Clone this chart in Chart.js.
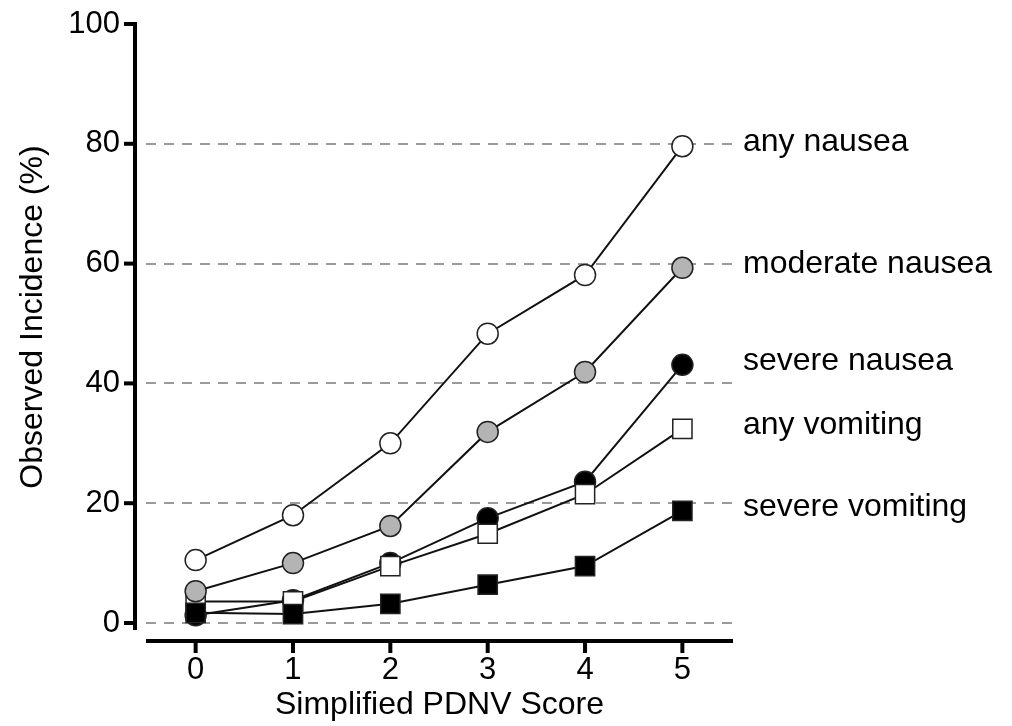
<!DOCTYPE html>
<html>
<head>
<meta charset="utf-8">
<script src="https://cdn.jsdelivr.net/npm/chart.js@4.4.1/dist/chart.umd.min.js"></script>
<style>
  html, body { margin: 0; padding: 0; background: #fff; }
</style>
</head>
<body>
<canvas id="myChart" width="1012" height="726"></canvas>
<script>
// values (observed incidence, %)
const scores = [0, 1, 2, 3, 4, 5];
const anyNausea = [10.5, 18.0, 30.0, 48.3, 58.1, 79.6];
const moderateNausea = [5.3, 10.0, 16.2, 31.9, 41.9, 59.3];
const severeNausea = [1.3, 3.8, 10.0, 17.5, 23.6, 43.1];
const anyVomiting = [3.6, 3.6, 9.5, 14.9, 21.5, 32.4];
const severeVomiting = [1.7, 1.5, 3.2, 6.4, 9.5, 18.7];
const seriesNames = ["any nausea", "moderate nausea", "severe nausea", "any vomiting", "severe vomiting"];
const yTitle = "Observed Incidence (%)";
const xTitle = "Simplified PDNV Score";

const FONT = "'Liberation Sans', Arial, sans-serif";
Chart.defaults.font.family = FONT;
Chart.defaults.color = "#000";

function toPoints(vals) {
  return scores.map((s, i) => ({ x: s, y: vals[i] }));
}

function series(label, vals, style, fill, radius, order) {
  return {
    label: label,
    data: toPoints(vals),
    borderColor: "#111",
    borderWidth: 2,
    pointStyle: style,
    pointRadius: radius,
    pointHoverRadius: radius,
    pointBackgroundColor: fill,
    pointBorderColor: "#222",
    pointBorderWidth: 1.5,
    tension: 0,
    fill: false,
    clip: false,
    order: order
  };
}

// axis lines, tick marks, titles and the end labels
const axesAndLabels = {
  id: "axesAndLabels",
  afterDraw(chart) {
    const { ctx, chartArea } = chart;
    const x = chart.scales.x;
    const y = chart.scales.y;
    const yLineX = chartArea.left - 11;
    const xLineY = chartArea.bottom + 18;

    ctx.save();
    ctx.strokeStyle = "#000";
    ctx.lineWidth = 4;

    ctx.beginPath();
    ctx.moveTo(yLineX, y.getPixelForValue(100) - 2);
    ctx.lineTo(yLineX, y.getPixelForValue(0) + 7);
    ctx.stroke();
    y.ticks.forEach(t => {
      const py = y.getPixelForValue(t.value);
      ctx.beginPath();
      ctx.moveTo(yLineX - 11, py);
      ctx.lineTo(yLineX, py);
      ctx.stroke();
    });

    ctx.beginPath();
    ctx.moveTo(chartArea.left, xLineY);
    ctx.lineTo(chartArea.right, xLineY);
    ctx.stroke();
    x.ticks.forEach(t => {
      const px = x.getPixelForValue(t.value);
      ctx.beginPath();
      ctx.moveTo(px, xLineY);
      ctx.lineTo(px, xLineY + 12);
      ctx.stroke();
    });

    ctx.fillStyle = "#000";
    ctx.font = "32px " + FONT;
    ctx.textAlign = "center";
    ctx.textBaseline = "middle";
    ctx.fillText(xTitle, (chartArea.left + chartArea.right) / 2, 705);

    ctx.save();
    ctx.translate(33, 317);
    ctx.rotate(-Math.PI / 2);
    ctx.fillText(yTitle, 0, 0);
    ctx.restore();

    ctx.textAlign = "left";
    ctx.textBaseline = "alphabetic";
    chart.data.datasets.forEach(ds => {
      const last = ds.data[ds.data.length - 1];
      ctx.fillText(ds.label, chartArea.right + 10, y.getPixelForValue(last.y) + 5);
    });
    ctx.restore();
  }
};

new Chart(document.getElementById("myChart"), {
  type: "line",
  data: {
    datasets: [
      series(seriesNames[0], anyNausea, "circle", "#fff", 10.5, 0),
      series(seriesNames[1], moderateNausea, "circle", "#b4b4b4", 10.5, 1),
      series(seriesNames[2], severeNausea, "circle", "#000", 10.5, 4),
      series(seriesNames[3], anyVomiting, "rect", "#fff", 13.6, 3),
      series(seriesNames[4], severeVomiting, "rect", "#000", 13.6, 2)
    ]
  },
  options: {
    responsive: false,
    animation: false,
    events: [],
    layout: { padding: { left: 0, right: 279, top: 24, bottom: 0 } },
    plugins: {
      legend: { display: false },
      tooltip: { enabled: false }
    },
    scales: {
      x: {
        type: "linear",
        min: -0.51,
        max: 5.52,
        afterBuildTicks: scale => {
          scale.ticks = scores.map(v => ({ value: v }));
        },
        afterFit: scale => { scale.height = 103; },
        grid: { display: false, drawTicks: false },
        border: { display: false },
        ticks: {
          font: { size: 31 },
          color: "#000",
          padding: 29,
          maxRotation: 0,
          autoSkip: false
        }
      },
      y: {
        min: 0,
        max: 100,
        afterFit: scale => { scale.width = 146; },
        grid: {
          drawTicks: true,
          tickLength: 26,
          tickColor: "rgba(0,0,0,0)",
          lineWidth: 2,
          color: c => (c.tick && c.tick.value === 100 ? "rgba(0,0,0,0)" : "#9a9a9a")
        },
        border: { display: false, dash: [10, 8] },
        ticks: {
          stepSize: 20,
          font: { size: 31 },
          color: "#000",
          padding: 0
        }
      }
    }
  },
  plugins: [axesAndLabels]
});
</script>
</body>
</html>
